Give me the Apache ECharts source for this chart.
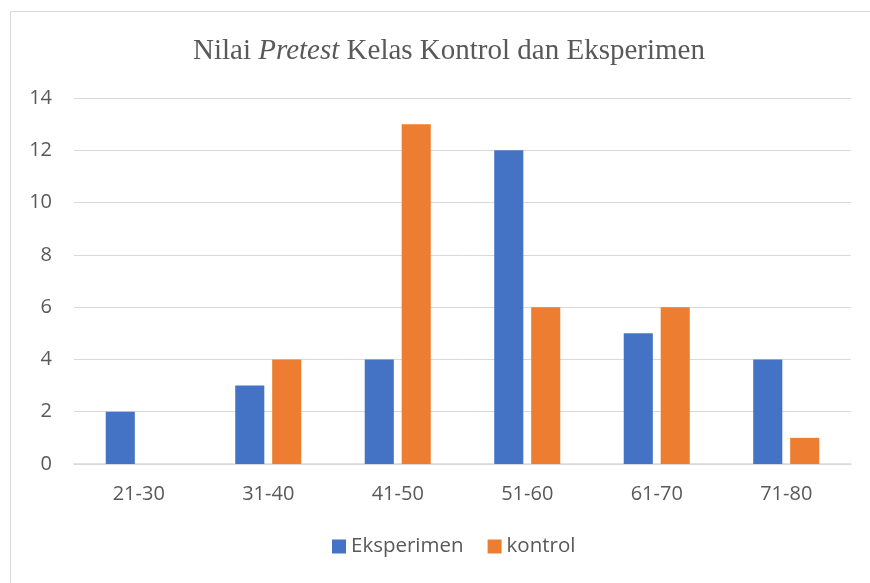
<!DOCTYPE html>
<html>
<head>
<meta charset="utf-8">
<script src="https://cdn.jsdelivr.net/npm/echarts@6/dist/echarts.min.js"></script>
<style>
  html, body { margin: 0; padding: 0; background: #fff; }
  #frame { position: absolute; left: 10px; top: 11px; width: 880px; height: 600px; border: 1px solid #d9d9d9; box-sizing: border-box; }
  #chart { position: absolute; left: 0; top: 0; width: 870px; height: 583px; }
</style>
</head>
<body>
<div id="frame"></div>
<div id="chart"></div>
<script>
// data
var categories = ['21-30', '31-40', '41-50', '51-60', '61-70', '71-80'];
var eksperimen = [2, 3, 4, 12, 5, 4];
var kontrol = [0, 4, 13, 6, 6, 1];
var yTicks = { min: 0, max: 14, interval: 2 };

var chart = echarts.init(document.getElementById('chart'));

var option = {
    animation: false,
    title: {
        text: 'Nilai {i|Pretest} Kelas Kontrol dan Eksperimen',
        left: 444,
        textAlign: 'center',
        top: 32,
        textStyle: {
            fontFamily: 'Liberation Serif',
            fontSize: 29,
            fontWeight: 'normal',
            color: '#595959',
            rich: {
                i: { fontFamily: 'Liberation Serif', fontSize: 29, fontStyle: 'italic', color: '#595959' }
            }
        }
    },
    legend: {
        bottom: 21,
        left: 327,
        itemWidth: 14,
        itemHeight: 14,
        itemGap: 24,
        icon: 'rect',
        textStyle: { fontFamily: 'Open Sans', fontSize: 20.5, color: '#595959' },
        data: ['Eksperimen', 'kontrol']
    },
    grid: { left: 74, right: 19, top: 98, bottom: 119 },
    xAxis: {
        type: 'category',
        data: categories,
        axisLine: { lineStyle: { color: '#d9d9d9', width: 1.5 } },
        axisTick: { show: false },
        axisLabel: { color: '#595959', fontFamily: 'Open Sans', fontSize: 20, margin: 20 }
    },
    yAxis: {
        type: 'value',
        min: yTicks.min,
        max: yTicks.max,
        interval: yTicks.interval,
        axisLine: { show: false },
        axisTick: { show: false },
        axisLabel: { color: '#595959', fontFamily: 'Open Sans', fontSize: 20, margin: 22 },
        splitLine: { lineStyle: { color: '#d9d9d9', width: 1 } }
    },
    series: [
        {
            name: 'Eksperimen',
            type: 'bar',
            data: eksperimen,
            barGap: '27%',
            barCategoryGap: '49%',
            itemStyle: { color: '#4472c4' }
        },
        {
            name: 'kontrol',
            type: 'bar',
            data: kontrol,
            itemStyle: { color: '#ed7d31' }
        }
    ]
};

chart.setOption(option);
</script>
</body>
</html>
